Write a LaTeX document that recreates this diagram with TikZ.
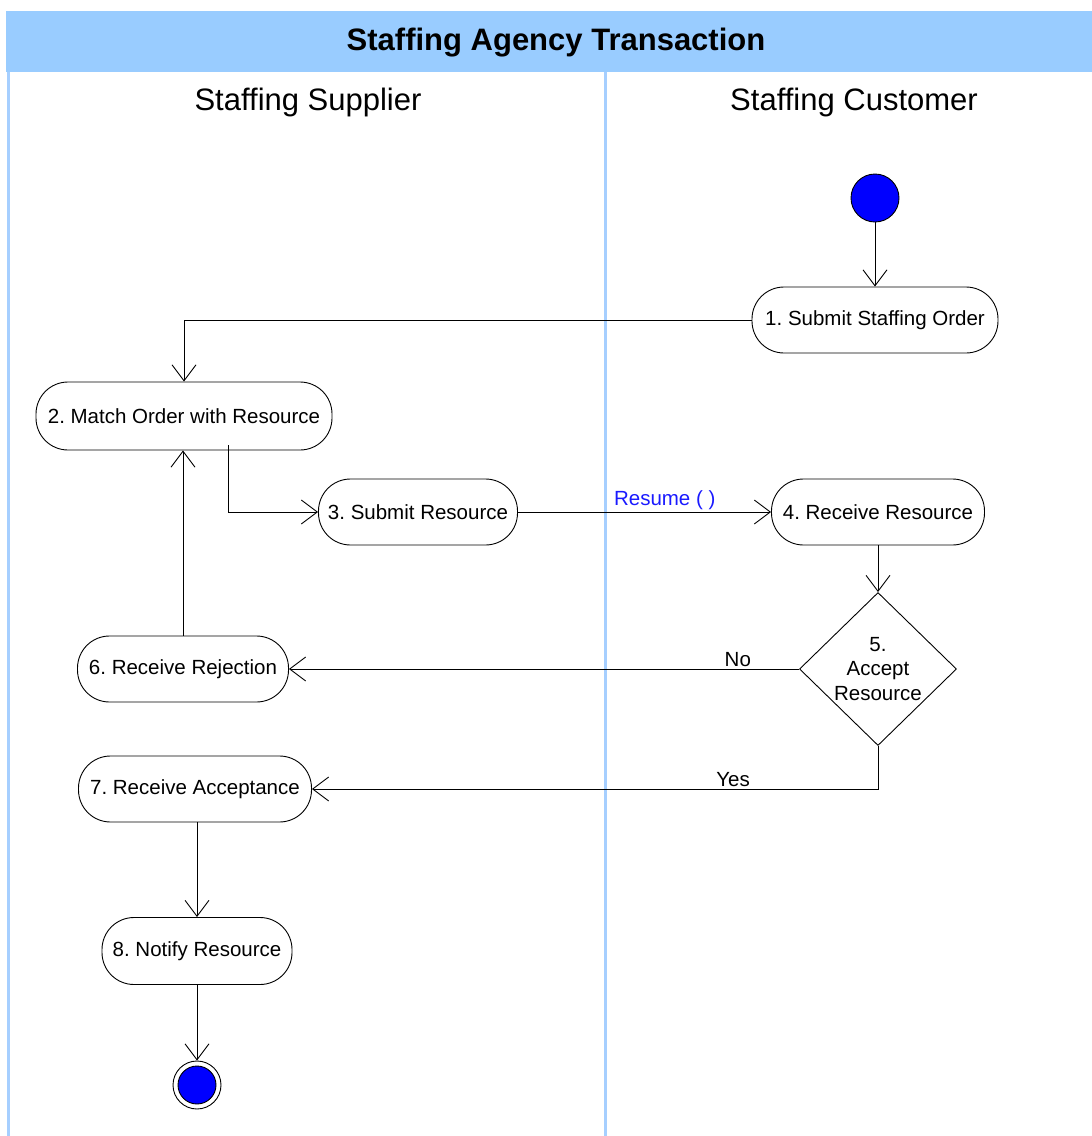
\documentclass[tikz,border=0pt]{standalone}
\usepackage{fontspec}
\setmainfont{Liberation Sans}
\usetikzlibrary{arrows.meta,shapes.geometric}
\definecolor{barblue}{HTML}{99CCFF}
\definecolor{laneblue}{HTML}{A6CFFF}
\definecolor{dotblue}{HTML}{0000FF}
\definecolor{labblue}{HTML}{1A1AFF}
\frenchspacing
\tikzset{
  act/.style={draw=black, line width=0.9pt, fill=white, rectangle, rounded corners=32pt,
    minimum height=66pt, inner sep=0pt, font=\fontsize{20.5}{24}\selectfont},
  dec/.style={draw=black, line width=0.9pt, fill=white, diamond, inner sep=0pt,
    minimum width=157pt, minimum height=153pt, align=center,
    font=\fontsize{20.5}{24.5}\selectfont},
  flow/.style={draw=black, line width=0.9pt, -{Straight Barb[length=16pt,width=24pt,line width=0.9pt]}},
  lab/.style={font=\fontsize{20.5}{24}\selectfont, inner sep=2pt},
  lane/.style={draw=laneblue, line width=3pt},
  hdr/.style={font=\fontsize{31}{36}\selectfont},
}
\begin{document}
\begin{tikzpicture}[x=1pt,y=-1pt]
\useasboundingbox (0,0) rectangle (1092,1136);
% swimlanes
\fill[barblue] (6,11) rectangle (1092,72);
\node[font=\bfseries\fontsize{31}{36}\selectfont] (title) at (556,43) {Staffing Agency Transaction};
\draw[lane] (8,72) -- (8,1136);
\draw[lane] (605,72) -- (605,1136);
\node[hdr] (h1) at (308,102) {Staffing Supplier};
\node[hdr] (h2) at (854,102) {Staffing Customer};
% nodes
\node[draw=black, line width=0.9pt, circle, fill=dotblue, minimum size=48pt, inner sep=0pt] (start) at (875,198) {};
\node[act, minimum width=246pt] (n1) at (875,320) {1. Submit Staffing Order};
\node[act, minimum width=296pt, minimum height=68pt] (n2) at (184,416) {2. Match Order with Resource};
\node[act, minimum width=199pt] (n3) at (418,512) {3. Submit Resource};
\node[act, minimum width=213pt] (n4) at (878,512) {4. Receive Resource};
\node[dec] (d5) at (878,669) {5.\\Accept\\Resource};
\node[act, minimum width=211pt] (n6) at (183,669) {6. Receive Rejection};
\node[act, minimum width=233pt] (n7) at (195,789) {7. Receive Acceptance};
\node[act, minimum width=190pt, minimum height=67pt] (n8) at (197,951) {8. Notify Resource};
\node[draw=black, line width=0.9pt, circle, fill=white, minimum size=48pt, inner sep=0pt] (end) at (197,1085) {};
\node[draw=black, line width=0.9pt, circle, fill=dotblue, minimum size=38pt, inner sep=0pt] (endin) at (197,1085) {};
% flows
\draw[flow] (start) -- (n1.north -| start);
\draw[flow] (n1.west) -| (n2.north);
\draw[flow] ([xshift=44pt,yshift=5pt]n2.south) |- (n3.west);
\draw[flow] (n3.east) -- node[lab, text=labblue, above, pos=0.58] (lres) {Resume ( )} (n4.west);
\draw[flow] (n4.south) -- (d5.north);
\draw[flow] (d5.west) -- node[lab, above, pos=0.12] (lno) {No} (d5.west -| n6.east);
\draw[flow] (n6.north) -- (n6.north |- n2.south);
\draw[flow] (d5.south) |- node[lab, above, pos=0.628] (lyes) {Yes} (n7.east);
\draw[flow] (n8.north |- n7.south) -- (n8.north);
\draw[flow] (n8.south) -- (end.north);
\end{tikzpicture}
\end{document}
